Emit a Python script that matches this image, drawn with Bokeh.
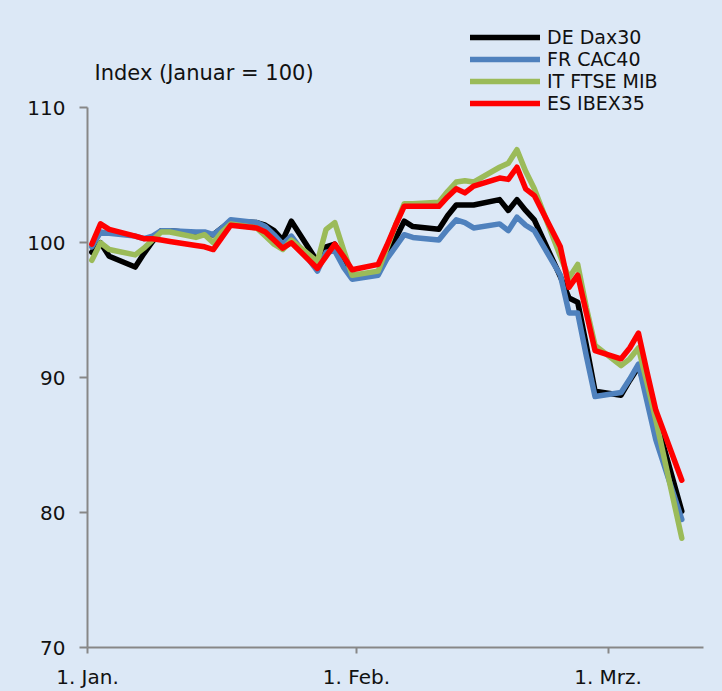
import pandas as pd
from bokeh.plotting import figure
from bokeh.models import Range1d, FixedTicker, Legend, LegendItem, Label
from bokeh.embed import file_html
from bokeh.resources import INLINE

# ---------------- data ----------------
dates = [
    "2020-01-01", "2020-01-02", "2020-01-03", "2020-01-06", "2020-01-07", "2020-01-08",
    "2020-01-09", "2020-01-10", "2020-01-13", "2020-01-14", "2020-01-15", "2020-01-16",
    "2020-01-17", "2020-01-20", "2020-01-21", "2020-01-22", "2020-01-23", "2020-01-24",
    "2020-01-27", "2020-01-28", "2020-01-29", "2020-01-30", "2020-01-31",
    "2020-02-03", "2020-02-04", "2020-02-05", "2020-02-06", "2020-02-07",
    "2020-02-10", "2020-02-11", "2020-02-12", "2020-02-13", "2020-02-14",
    "2020-02-17", "2020-02-18", "2020-02-19", "2020-02-20", "2020-02-21",
    "2020-02-24", "2020-02-25", "2020-02-26", "2020-02-27", "2020-02-28",
    "2020-03-02", "2020-03-03", "2020-03-04", "2020-03-05", "2020-03-06",
    "2020-03-09",
]

de_dax30 = [
    99.3, 100.0, 99.0, 98.2, 99.2, 100.1, 100.9, 100.9, 100.7, 100.6, 100.6, 101.1,
    101.6, 101.5, 101.3, 100.9, 100.2, 101.6, 98.6, 99.7, 99.9, 98.6, 97.6,
    97.7, 99.0, 100.3, 101.6, 101.2, 101.0, 102.0, 102.8, 102.8, 102.8,
    103.2, 102.4, 103.2, 102.4, 101.7, 97.5, 95.9, 95.6, 92.4, 89.0,
    88.7, 89.8, 90.8, 89.0, 87.0, 80.1,
]
fr_cac40 = [
    99.7, 100.8, 100.7, 100.5, 100.3, 100.5, 100.9, 100.9, 100.8, 100.8, 100.6, 101.1,
    101.7, 101.5, 101.2, 100.6, 99.9, 100.5, 97.9, 99.3, 99.4, 98.2, 97.3,
    97.6, 98.8, 99.7, 100.6, 100.4, 100.2, 101.0, 101.7, 101.5, 101.1,
    101.4, 100.9, 101.9, 101.3, 100.9, 97.6, 94.8, 94.8, 91.6, 88.6,
    88.9, 89.9, 91.0, 88.2, 85.4, 79.5,
]
it_ftse_mib = [
    98.7, 100.0, 99.5, 99.1, 99.6, 100.2, 100.8, 100.8, 100.4, 100.6, 100.0, 100.8,
    101.4, 101.1, 100.5, 99.9, 99.5, 100.2, 98.6, 101.0, 101.5, 99.5, 97.6,
    97.9, 99.6, 101.3, 102.9, 102.9, 103.0, 103.8, 104.5, 104.6, 104.5,
    105.6, 105.9, 106.9, 105.3, 104.0, 99.0, 97.4, 98.4, 95.2, 92.4,
    90.9, 91.4, 92.2, 89.6, 86.9, 78.1,
]
es_ibex35 = [
    99.9, 101.4, 101.0, 100.5, 100.3, 100.3, 100.2, 100.1, 99.8, 99.7, 99.5, 100.4,
    101.3, 101.1, 100.8, 100.2, 99.6, 100.0, 98.1, 99.0, 99.9, 99.0, 98.0,
    98.4, 99.8, 101.3, 102.7, 102.7, 102.7, 103.4, 104.0, 103.7, 104.2,
    104.8, 104.7, 105.6, 104.0, 103.5, 99.7, 96.7, 97.6, 94.8, 92.0,
    91.4, 92.2, 93.3, 90.4, 87.6, 82.4,
]

series_names = ["DE Dax30", "FR CAC40", "IT FTSE MIB", "ES IBEX35"]
x_tick_dates = ["2020-01-01", "2020-02-01", "2020-03-01"]
x_tick_labels = ["1. Jan.", "1. Feb.", "1. Mrz."]
y_ticks = [70, 80, 90, 100, 110]
y_title = "Index (Januar = 100)"
x_start, x_end = "2020-01-01", "2020-03-12"
y_axis_min, y_axis_max = 70, 110
y_view_max = 117.96   # headroom above the axis for the legend / title

# ---------------- styling ----------------
BG = "#dce8f6"
AXIS = "#878787"
FONT = "DejaVu Sans"
TXT = "#111111"
colors = ["#000000", "#4f81bd", "#9bbb59", "#ff0000"]


def ms(d):
    return int(pd.Timestamp(d).value // 10**6)


# points sit in the middle of their day (date axis, between tick marks)
x = pd.to_datetime(dates) + pd.Timedelta(hours=12)

p = figure(
    width=722, height=691,
    x_axis_type="datetime",
    x_range=Range1d(ms(x_start), ms(x_end)),
    y_range=Range1d(y_axis_min, y_view_max),
    output_backend="svg", toolbar_location=None,
    min_border_left=87, min_border_right=19, min_border_top=0, min_border_bottom=40,
    background_fill_color=BG, border_fill_color=BG, outline_line_color=None,
)
p.xgrid.visible = False
p.ygrid.visible = False

# x axis
p.xaxis.ticker = FixedTicker(ticks=[ms(d) for d in x_tick_dates])
p.xaxis.major_label_overrides = {ms(d): lab for d, lab in zip(x_tick_dates, x_tick_labels)}
# y axis (line only from 70 to 110)
p.yaxis.ticker = FixedTicker(ticks=y_ticks)
p.yaxis.bounds = (y_axis_min, y_axis_max)

for ax in (p.xaxis[0], p.yaxis[0]):
    ax.axis_line_color = AXIS
    ax.axis_line_width = 2
    ax.major_tick_line_color = AXIS
    ax.major_tick_line_width = 2
    ax.major_tick_in = 0
    ax.minor_tick_in = 0
    ax.minor_tick_out = 0
    ax.major_label_text_font = FONT
    ax.major_label_text_font_size = "20px"
    ax.major_label_text_color = TXT
p.xaxis.major_tick_out = 6
p.xaxis.major_label_standoff = 11
p.yaxis.major_tick_out = 8
p.yaxis.major_label_standoff = 14

items = []
for name, vals, c in zip(series_names, [de_dax30, fr_cac40, it_ftse_mib, es_ibex35], colors):
    r = p.line(x, vals, line_color=c, line_width=5.5, line_join="round", line_cap="round")
    items.append(LegendItem(label=name, renderers=[r]))

legend = Legend(
    items=items, location=(383, 533), orientation="vertical",
    glyph_width=70, glyph_height=22, label_height=22, label_standoff=7,
    spacing=0, padding=0, margin=0,
    border_line_alpha=0, background_fill_alpha=0,
    label_text_font=FONT, label_text_font_size="19px", label_text_color=TXT,
)
p.add_layout(legend)

p.add_layout(Label(
    x=7, y=575, x_units="screen", y_units="screen", text=y_title,
    text_font=FONT, text_font_size="21px", text_color=TXT,
    text_baseline="middle", text_align="left",
))

template = """{% block preamble %}<style>html, body { background: #dce8f6; }</style>{% endblock %}"""
open("out.html", "w").write(file_html(p, INLINE, template=template))
